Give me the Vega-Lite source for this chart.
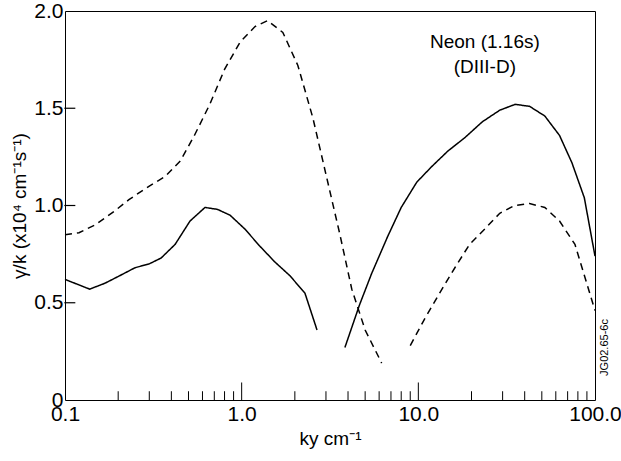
{
  "$schema": "https://vega.github.io/schema/vega-lite/v6.json",
  "width": 530,
  "height": 389,
  "autosize": "none",
  "padding": {"left": 65, "top": 11, "right": 26, "bottom": 61},
  "background": "white",
  "config": {
    "font": "Liberation Sans",
    "view": {"stroke": "black", "strokeWidth": 1},
    "axis": {"grid": false, "domain": false, "ticks": false, "labelColor": "black", "titleColor": "black", "labelFontSize": 21, "titleFontSize": 19, "titleFontWeight": "normal", "labelFont": "Liberation Sans", "titleFont": "Liberation Sans"}
  },
  "datasets": {
    "curves": [
      {"k": 0.1, "v": 0.62, "seg": "s1", "style": "solid"},
      {"k": 0.138, "v": 0.57, "seg": "s1", "style": "solid"},
      {"k": 0.168, "v": 0.60, "seg": "s1", "style": "solid"},
      {"k": 0.205, "v": 0.64, "seg": "s1", "style": "solid"},
      {"k": 0.249, "v": 0.68, "seg": "s1", "style": "solid"},
      {"k": 0.30, "v": 0.70, "seg": "s1", "style": "solid"},
      {"k": 0.35, "v": 0.73, "seg": "s1", "style": "solid"},
      {"k": 0.42, "v": 0.80, "seg": "s1", "style": "solid"},
      {"k": 0.51, "v": 0.92, "seg": "s1", "style": "solid"},
      {"k": 0.62, "v": 0.99, "seg": "s1", "style": "solid"},
      {"k": 0.73, "v": 0.98, "seg": "s1", "style": "solid"},
      {"k": 0.86, "v": 0.95, "seg": "s1", "style": "solid"},
      {"k": 1.04, "v": 0.88, "seg": "s1", "style": "solid"},
      {"k": 1.27, "v": 0.79, "seg": "s1", "style": "solid"},
      {"k": 1.54, "v": 0.71, "seg": "s1", "style": "solid"},
      {"k": 1.87, "v": 0.64, "seg": "s1", "style": "solid"},
      {"k": 2.28, "v": 0.55, "seg": "s1", "style": "solid"},
      {"k": 2.67, "v": 0.36, "seg": "s1", "style": "solid"},
      {"k": 3.84, "v": 0.27, "seg": "s2", "style": "solid"},
      {"k": 4.65, "v": 0.49, "seg": "s2", "style": "solid"},
      {"k": 5.44, "v": 0.65, "seg": "s2", "style": "solid"},
      {"k": 6.7, "v": 0.84, "seg": "s2", "style": "solid"},
      {"k": 8.0, "v": 0.99, "seg": "s2", "style": "solid"},
      {"k": 9.8, "v": 1.12, "seg": "s2", "style": "solid"},
      {"k": 11.9, "v": 1.20, "seg": "s2", "style": "solid"},
      {"k": 14.7, "v": 1.28, "seg": "s2", "style": "solid"},
      {"k": 18.4, "v": 1.35, "seg": "s2", "style": "solid"},
      {"k": 23.0, "v": 1.43, "seg": "s2", "style": "solid"},
      {"k": 28.9, "v": 1.49, "seg": "s2", "style": "solid"},
      {"k": 35.3, "v": 1.52, "seg": "s2", "style": "solid"},
      {"k": 42.6, "v": 1.51, "seg": "s2", "style": "solid"},
      {"k": 52, "v": 1.46, "seg": "s2", "style": "solid"},
      {"k": 63, "v": 1.36, "seg": "s2", "style": "solid"},
      {"k": 74, "v": 1.22, "seg": "s2", "style": "solid"},
      {"k": 87, "v": 1.04, "seg": "s2", "style": "solid"},
      {"k": 100, "v": 0.74, "seg": "s2", "style": "solid"},
      {"k": 0.1, "v": 0.85, "seg": "d1", "style": "dashed"},
      {"k": 0.12, "v": 0.86, "seg": "d1", "style": "dashed"},
      {"k": 0.148, "v": 0.90, "seg": "d1", "style": "dashed"},
      {"k": 0.19, "v": 0.97, "seg": "d1", "style": "dashed"},
      {"k": 0.23, "v": 1.03, "seg": "d1", "style": "dashed"},
      {"k": 0.30, "v": 1.10, "seg": "d1", "style": "dashed"},
      {"k": 0.37, "v": 1.15, "seg": "d1", "style": "dashed"},
      {"k": 0.45, "v": 1.23, "seg": "d1", "style": "dashed"},
      {"k": 0.54, "v": 1.36, "seg": "d1", "style": "dashed"},
      {"k": 0.66, "v": 1.52, "seg": "d1", "style": "dashed"},
      {"k": 0.80, "v": 1.70, "seg": "d1", "style": "dashed"},
      {"k": 0.98, "v": 1.84, "seg": "d1", "style": "dashed"},
      {"k": 1.19, "v": 1.92, "seg": "d1", "style": "dashed"},
      {"k": 1.40, "v": 1.95, "seg": "d1", "style": "dashed"},
      {"k": 1.71, "v": 1.89, "seg": "d1", "style": "dashed"},
      {"k": 2.08, "v": 1.72, "seg": "d1", "style": "dashed"},
      {"k": 2.53, "v": 1.45, "seg": "d1", "style": "dashed"},
      {"k": 3.0, "v": 1.16, "seg": "d1", "style": "dashed"},
      {"k": 3.6, "v": 0.85, "seg": "d1", "style": "dashed"},
      {"k": 4.2, "v": 0.57, "seg": "d1", "style": "dashed"},
      {"k": 5.0, "v": 0.36, "seg": "d1", "style": "dashed"},
      {"k": 6.2, "v": 0.19, "seg": "d1", "style": "dashed"},
      {"k": 9.0, "v": 0.28, "seg": "d2", "style": "dashed"},
      {"k": 10.9, "v": 0.42, "seg": "d2", "style": "dashed"},
      {"k": 13.2, "v": 0.55, "seg": "d2", "style": "dashed"},
      {"k": 16.1, "v": 0.68, "seg": "d2", "style": "dashed"},
      {"k": 19.5, "v": 0.80, "seg": "d2", "style": "dashed"},
      {"k": 23.8, "v": 0.88, "seg": "d2", "style": "dashed"},
      {"k": 28.9, "v": 0.96, "seg": "d2", "style": "dashed"},
      {"k": 35, "v": 1.00, "seg": "d2", "style": "dashed"},
      {"k": 42.6, "v": 1.01, "seg": "d2", "style": "dashed"},
      {"k": 52, "v": 0.99, "seg": "d2", "style": "dashed"},
      {"k": 63, "v": 0.92, "seg": "d2", "style": "dashed"},
      {"k": 77, "v": 0.80, "seg": "d2", "style": "dashed"},
      {"k": 100, "v": 0.46, "seg": "d2", "style": "dashed"}
    ],
    "labels": [
      {"k": 23.8, "v": 1.84, "t": "Neon (1.16s)"},
      {"k": 23.8, "v": 1.71, "t": "(DIII-D)"}
    ],
    "xticks": [
      {"k": 1, "v": 0, "len": 0.09}, {"k": 10, "v": 0, "len": 0.09},
      {"k": 0.2, "v": 0, "len": 0.045}, {"k": 0.3, "v": 0, "len": 0.045}, {"k": 0.4, "v": 0, "len": 0.045}, {"k": 0.5, "v": 0, "len": 0.045}, {"k": 0.6, "v": 0, "len": 0.045}, {"k": 0.7, "v": 0, "len": 0.045}, {"k": 0.8, "v": 0, "len": 0.045}, {"k": 0.9, "v": 0, "len": 0.045},
      {"k": 2, "v": 0, "len": 0.045}, {"k": 3, "v": 0, "len": 0.045}, {"k": 4, "v": 0, "len": 0.045}, {"k": 5, "v": 0, "len": 0.045}, {"k": 6, "v": 0, "len": 0.045}, {"k": 7, "v": 0, "len": 0.045}, {"k": 8, "v": 0, "len": 0.045}, {"k": 9, "v": 0, "len": 0.045},
      {"k": 20, "v": 0, "len": 0.045}, {"k": 30, "v": 0, "len": 0.045}, {"k": 40, "v": 0, "len": 0.045}, {"k": 50, "v": 0, "len": 0.045}, {"k": 60, "v": 0, "len": 0.045}, {"k": 70, "v": 0, "len": 0.045}, {"k": 80, "v": 0, "len": 0.045}, {"k": 90, "v": 0, "len": 0.045}
    ],
    "yticks": [
      {"k": 0.1065, "v": 0.5}, {"k": 0.1065, "v": 1.0}, {"k": 0.1065, "v": 1.5}
    ]
  },
  "layer": [
    {
      "data": {"name": "curves"},
      "mark": {"type": "line", "color": "black", "strokeWidth": 1.5},
      "encoding": {
        "x": {"field": "k", "type": "quantitative", "scale": {"type": "log", "domain": [0.1, 100]},
          "axis": {"values": [0.1, 1, 10, 100], "labelExpr": "datum.value < 1 ? '0.1' : format(datum.value, '.1f')", "labelPadding": 3, "title": "ky cm⁻¹", "titlePadding": 5, "labelFlush": false}},
        "y": {"field": "v", "type": "quantitative", "scale": {"domain": [0, 2]},
          "axis": {"values": [0, 0.5, 1, 1.5, 2], "labelExpr": "datum.value == 0 ? '0' : format(datum.value, '.1f')", "labelPadding": 2, "title": "γ/k (x10⁴ cm⁻¹s⁻¹)", "titlePadding": 4}},
        "detail": {"field": "seg"},
        "strokeDash": {"field": "style", "type": "nominal", "scale": {"domain": ["solid", "dashed"], "range": [[1, 0], [7, 5]]}, "legend": null}
      }
    },
    {
      "data": {"name": "xticks"},
      "mark": {"type": "rule", "color": "black", "strokeWidth": 1},
      "encoding": {
        "x": {"field": "k", "type": "quantitative"},
        "y": {"field": "v", "type": "quantitative"},
        "y2": {"field": "len"}
      }
    },
    {
      "data": {"name": "yticks"},
      "mark": {"type": "tick", "color": "black", "orient": "horizontal", "size": 11, "thickness": 1.2, "opacity": 1},
      "encoding": {
        "x": {"field": "k", "type": "quantitative"},
        "y": {"field": "v", "type": "quantitative"}
      }
    },
    {
      "data": {"name": "labels"},
      "mark": {"type": "text", "fontSize": 19, "color": "black", "align": "center"},
      "encoding": {
        "x": {"field": "k", "type": "quantitative"},
        "y": {"field": "v", "type": "quantitative"},
        "text": {"field": "t"}
      }
    },
    {
      "data": {"values": [{"k": 100, "v": 0.27, "t": "JG02.65-6c"}]},
      "mark": {"type": "text", "fontSize": 11, "angle": 270, "dy": 10, "color": "black"},
      "encoding": {
        "x": {"field": "k", "type": "quantitative"},
        "y": {"field": "v", "type": "quantitative"},
        "text": {"field": "t"}
      }
    }
  ]
}
